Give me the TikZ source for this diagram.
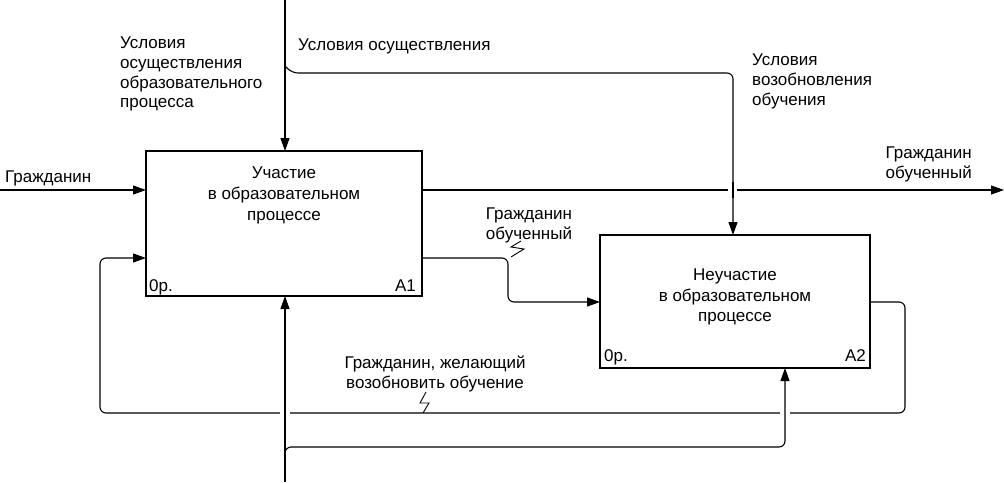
\documentclass[tikz,border=0pt]{standalone}
\usepackage{fontspec}
\setmainfont{Liberation Sans}
\usetikzlibrary{arrows.meta}
\begin{document}
\begin{tikzpicture}[x=1pt,y=-1pt,
  lbl/.style={inner sep=0pt,font=\fontsize{17}{19.7}\selectfont},
  funcbox/.style={draw,line width=2.2pt,inner sep=0pt},
  conn/.style={line width=1.1pt,rounded corners=6pt},
  arr/.style={-{Triangle[length=13pt,width=9pt]}},
  gap/.style={white,line width=4pt}]
\useasboundingbox (0,0) rectangle (1004,482);
% boxes
\node[funcbox,minimum width=276pt,minimum height=145pt] (A1) at (284,223.5) {};
\node[funcbox,minimum width=270pt,minimum height=133pt] (A2) at (735,301.5) {};
\node[lbl,align=center,font=\fontsize{17}{21}\selectfont] (t1) at (284,195) {Участие\\в образовательном\\процессе};
\node[lbl,align=center,font=\fontsize{17}{20.5}\selectfont] (t2) at (735,297) {Неучастие\\в образовательном\\процессе};
\node[lbl,anchor=base west] (c1) at (149,291) {0р.};
\node[lbl,anchor=base east] (n1) at (416,291) {A1};
\node[lbl,anchor=base west] (c2) at (604,361) {0р.};
\node[lbl,anchor=base east] (n2) at (866,361) {A2};
% coordinates
\coordinate (ctop) at (285,0);
\coordinate (ctrl1) at (285,151);
\coordinate (ctrl2) at (733,235);
\coordinate (inL) at (0,190);
\coordinate (in1) at (146,190);
\coordinate (out1) at (422,190);
\coordinate (outR) at (1004,190);
\coordinate (o2a) at (422,258);
\coordinate (in2) at (600,302);
\coordinate (o3a) at (870,302);
\coordinate (in1b) at (146,258);
\coordinate (mbot) at (285,482);
\coordinate (mech1) at (285,296);
\coordinate (mech2) at (785,368);
% control
\draw[conn,arr] (ctop) -- (ctrl1);
\draw[conn,arr] (285,66) -- (292,73) -- (733,73) -- (ctrl2);
% input
\draw[conn,arr] (inL) -- (in1);
% output 1
\draw[conn,arr] (out1) -- (outR);
\draw[gap] (728,190) -- (737,190);
\draw[conn] (733,182) -- (733,198);
% output to A2
\draw[conn,arr] (o2a) -- (508,258) -- (508,302) -- (in2);
% feedback
\draw[conn,arr] (o3a) -- (905,302) -- (905,413) -- (100,413) -- (100,258) -- (in1b);
\draw[gap] (280,413) -- (290,413);
\draw[gap] (780,413) -- (790,413);
% mechanism
\draw[conn,arr] (mbot) -- (mech1);
\draw[conn,arr] (285,452) -- (285,447) -- (785,447) -- (mech2);
% lightnings
\draw[line width=0.9pt] (511,257) -- (524,249) -- (511,247) -- (521,241);
\draw[line width=0.9pt] (423,413) -- (429,403) -- (420,403) -- (426,392);
% labels
\node[lbl,align=left,anchor=north west] (l1) at (120,37) {Условия\\осуществления\\образовательного\\процесса};
\node[lbl,anchor=north west] (l2) at (298,39) {Условия осуществления};
\node[lbl,align=left,anchor=north west] (l3) at (752,54) {Условия\\возобновления\\обучения};
\node[lbl,anchor=north west] (l4) at (5,171) {Гражданин};
\node[lbl,align=right,anchor=north east] (l5) at (972,147) {Гражданин\\обученный};
\node[lbl,align=center,anchor=north] (l6) at (529,208) {Гражданин\\обученный};
\node[lbl,align=center,anchor=north] (l7) at (435,356) {Гражданин, желающий\\возобновить обучение};
\end{tikzpicture}
\end{document}
